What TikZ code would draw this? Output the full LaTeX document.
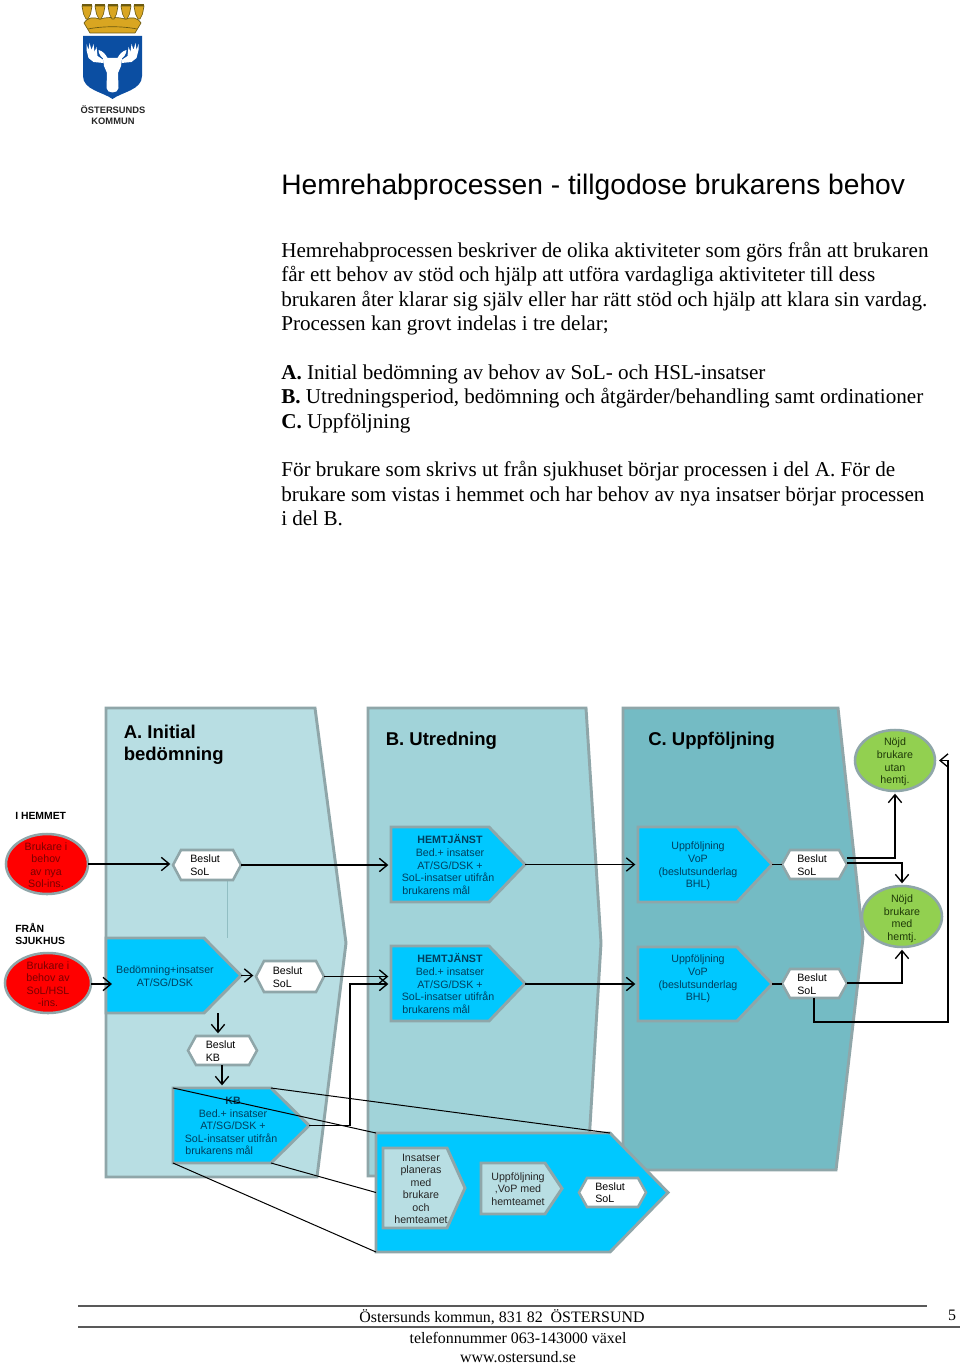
\documentclass[tikz,border=0pt]{standalone}
\usepackage{fontspec}
\setmainfont{Liberation Serif}
\setsansfont{Liberation Sans}
\usetikzlibrary{arrows.meta,shapes.geometric,calc}
\definecolor{edgegrey}{HTML}{8FA6A9}
\definecolor{panA}{HTML}{B8DEE3}
\definecolor{panB}{HTML}{A1D3D9}
\definecolor{panC}{HTML}{74BBC4}
\definecolor{cyanbox}{HTML}{00C8FF}
\definecolor{redell}{HTML}{FF0000}
\definecolor{greenell}{HTML}{92D050}
\definecolor{cyantext}{HTML}{003F5E}
\definecolor{redtext}{HTML}{7A0000}
\definecolor{greentext}{HTML}{1F3A08}
\definecolor{shieldblue}{HTML}{0B4EA2}
\definecolor{gold}{HTML}{D9A621}
\definecolor{golddark}{HTML}{6B5A10}
\tikzset{
  x=0.75pt,y=-0.75pt,
  shapeedge/.style={draw=edgegrey,line width=2.2pt,line join=miter},
  anchorbox/.style={rectangle,inner sep=0pt,outer sep=0pt},
  arr/.style={draw=black,line width=1pt,-{Straight Barb[length=6pt,width=10pt,line width=1pt]},shorten >=2pt},
  plainline/.style={draw=black,line width=1pt},
  callout/.style={draw=black,line width=0.75pt},
  small/.style={font=\sffamily\fontsize{8}{9.4}\selectfont,inner sep=0pt,align=center},
  smallleft/.style={small,align=left},
  oncyan/.style={small,text=cyantext},
  onred/.style={small,text=redtext},
  ongreen/.style={small,text=greentext},
  onpale/.style={small,text=black!85},
  heading/.style={font=\sffamily\bfseries\fontsize{13.9}{16.5}\selectfont,inner sep=0pt,align=left,anchor=north west},
  side/.style={font=\sffamily\bfseries\fontsize{7.8}{9.4}\selectfont,inner sep=0pt,align=left,text=black},
  bodyline/.style={font=\rmfamily\fontsize{15.85}{18}\selectfont,inner sep=0pt,anchor=base west},
  foot/.style={font=\rmfamily\fontsize{11.95}{14}\selectfont,inner sep=0pt,anchor=base},
}
% name, x1, y1, tip-start x, tip x, y2, fill
\newcommand{\pentbox}[7]{%
  \path[shapeedge,fill=#7] (#2,#3) -- (#4,#3) -- (#5,{(#3+#6)/2}) -- (#4,#6) -- (#2,#6) -- cycle;
  \coordinate (#1-ts) at (#4,#3);
  \coordinate (#1-bs) at (#4,#6);
  \node[anchorbox,minimum width={(#5-#2)*0.75pt},minimum height={(#6-#3)*0.75pt}] (#1) at ({(#2+#5)/2},{(#3+#6)/2}) {};
}
% name, x1, y1, x2, y2, inset
\newcommand{\hexbox}[6]{%
  \path[shapeedge,line width=1.9pt,fill=white] (#2,{(#3+#5)/2}) -- ({#2+#6},#3) -- ({#4-#6},#3) -- (#4,{(#3+#5)/2}) -- ({#4-#6},#5) -- ({#2+#6},#5) -- cycle;
  \node[anchorbox,minimum width={(#4-#2)*0.75pt},minimum height={(#5-#3)*0.75pt}] (#1) at ({(#2+#4)/2},{(#3+#5)/2}) {};
}
% name, x1, y1, x2, y2, fill
\newcommand{\ovalbox}[6]{%
  \node[ellipse,shapeedge,line width=1.9pt,fill=#6,inner sep=0pt,outer sep=0pt,minimum width={(#4-#2)*0.75pt},minimum height={(#5-#3)*0.75pt}] (#1) at ({(#2+#4)/2},{(#3+#5)/2}) {};
}
\newcommand{\nudge}{\hspace*{3pt}}
\begin{document}
\begin{tikzpicture}
\useasboundingbox (0,0) rectangle (960,1363);
\fill[white] (0,0) rectangle (960,1363);

% ---- logo
\begin{scope}
  \fill[shieldblue] (83,36) -- (142,36) -- (142,76) .. controls (142,90) and (122,92) .. (112.5,99) .. controls (103,92) and (83,90) .. (83,76) -- cycle;
  \path[fill=gold,draw=golddark,line width=0.5pt] (84,23) .. controls (88,17) and (93,17) .. (100,19) .. controls (106,17) and (119,17) .. (125,19) .. controls (132,17) and (137,17) .. (141,23) -- (135,33) -- (90,33) -- cycle;
  \foreach \kx in {87,100,113,126,139}{
    \path[fill=gold,draw=golddark,line width=0.5pt] (\kx-5,6) -- (\kx+5,6) -- (\kx+3.5,14) -- (\kx+1,19) -- (\kx-1,19) -- (\kx-3.5,14) -- cycle;
    \fill[golddark] (\kx-5,4.5) rectangle (\kx+5,6.5);
  }
  \draw[golddark,line width=0.5pt] (88,29) .. controls (103,26) and (122,26) .. (137,29);
  \foreach \s in {1,-1}{
    \begin{scope}[shift={(112.5,0)},xscale=\s]
      \fill[white] (-9,63) -- (-19,62) -- (-24,58) -- (-26,50) -- (-26,44) -- (-24,50) -- (-23,43) -- (-21,50) -- (-19,44) -- (-18,52) -- (-16,47) -- (-15,56) -- (-9,60) -- cycle;
      \fill[white] (-5,58) .. controls (-7,54) and (-10,51) .. (-14,50) .. controls (-14,54) and (-11,58) .. (-7,60) -- cycle;
    \end{scope}
  }
  \fill[white] (103,58) -- (122,58) -- (121,66) -- (118,73) -- (118.5,88) .. controls (118.5,94) and (106.5,94) .. (106.5,88) -- (107,73) -- (104,66) -- cycle;
  \node[font=\sffamily\bfseries\fontsize{7}{8.2}\selectfont,inner sep=0pt,align=center,text=black!85] (logotext) at (113,115.5) {ÖSTERSUNDS\\KOMMUN};
\end{scope}

% ---- page text
\node[font=\sffamily\fontsize{21.15}{24}\selectfont,inner sep=0pt,anchor=base west] (title) at (281,194) {Hemrehabprocessen - tillgodose brukarens behov};
\node[bodyline] (p1) at (281,257) {Hemrehabprocessen beskriver de olika aktiviteter som görs från att brukaren};
\node[bodyline] (p2) at (281,281.5) {får ett behov av stöd och hjälp att utföra vardagliga aktiviteter till dess};
\node[bodyline] (p3) at (281,306) {brukaren åter klarar sig själv eller har rätt stöd och hjälp att klara sin vardag.};
\node[bodyline] (p4) at (281,330) {Processen kan grovt indelas i tre delar;};
\node[bodyline] (p5) at (281,379) {\textbf{A.} Initial bedömning av behov av SoL- och HSL-insatser};
\node[bodyline] (p6) at (281,403) {\textbf{B.} Utredningsperiod, bedömning och åtgärder/behandling samt ordinationer};
\node[bodyline] (p7) at (281,428) {\textbf{C.} Uppföljning};
\node[bodyline] (p8) at (281,476) {För brukare som skrivs ut från sjukhuset börjar processen i del A. För de};
\node[bodyline] (p9) at (281,501) {brukare som vistas i hemmet och har behov av nya insatser börjar processen};
\node[bodyline] (p10) at (281,525) {i del B.};

% ---- panels
\path[shapeedge,fill=panA] (106,708) -- (315,708) -- (346,943) -- (317,1177) -- (106,1177) -- cycle;
\path[shapeedge,fill=panB] (368,708) -- (586,708) -- (601,943) -- (587,1176) -- (368,1176) -- cycle;
\path[shapeedge,fill=panC] (623,708) -- (838,708) -- (863,938) -- (836,1170) -- (623,1170) -- cycle;
\draw[panB!90!black,line width=0.4pt] (227,880) -- (227,938);

\node[heading] (headA) at (123.5,725) {A. Initial\\bedömning};
\node[heading] (headB) at (385.5,732) {B. Utredning};
\node[heading] (headC) at (648,732) {C. Uppföljning};
\node[side,anchor=west] (hemmet) at (15,816) {I HEMMET};
\node[side,anchor=west] (sjukhus) at (15,934) {FRÅN\\SJUKHUS};

% ---- shapes
\ovalbox{red1}{6}{834}{88}{894}{redell}
\ovalbox{red2}{5}{953}{91}{1013}{redell}
\ovalbox{nojdutan}{855}{730}{935}{791}{greenell}
\ovalbox{nojdmed}{862}{886}{942}{947}{greenell}
\hexbox{hexA1}{173}{850}{241}{880}{8}
\hexbox{hexA2}{256}{961}{324}{992}{8}
\hexbox{hexKB}{188}{1036}{257}{1065}{8}
\hexbox{hexC1}{782}{850}{847}{879}{8}
\hexbox{hexC2}{782}{969}{847}{998}{8}
\pentbox{bed}{106}{938}{204}{241}{1013}{cyanbox}
\pentbox{kb}{173}{1088}{271}{309}{1163}{cyanbox}
\pentbox{bone}{391}{827}{489}{525}{902}{cyanbox}
\pentbox{btwo}{391}{946}{489}{525}{1021}{cyanbox}
\pentbox{cone}{638}{827}{737}{772}{902}{cyanbox}
\pentbox{ctwo}{638}{947}{737}{772}{1021}{cyanbox}
\pentbox{big}{376}{1133}{610}{668}{1252}{cyanbox}
\pentbox{plan}{383}{1148}{447}{465}{1228}{panA}
\pentbox{uppf}{481}{1163}{545}{562}{1214}{panA}
\hexbox{hexBig}{579}{1178}{646}{1207}{8}

% ---- shape texts
\node[onred] (red1t) at (46,865) {Brukare i\\behov\\av nya\\Sol-ins.};
\node[onred] (red2t) at (48,984) {Brukare i\\behov av\\SoL/HSL\\-ins.};
\node[ongreen] (utant) at (895,762) {Nöjd\\brukare\\utan\\hemtj.};
\node[ongreen] (medt) at (902,918.5) {Nöjd\\brukare\\med\\hemtj.};
\node[smallleft,anchor=west] (hexA1t) at (190,865) {Beslut\\SoL};
\node[smallleft,anchor=west] (hexA2t) at (272.5,977) {Beslut\\SoL};
\node[smallleft,anchor=west] (hexKBt) at (205.5,1051) {Beslut\\KB};
\node[smallleft,anchor=west] (hexC1t) at (797,865) {Beslut\\SoL};
\node[smallleft,anchor=west] (hexC2t) at (797,984) {Beslut\\SoL};
\node[smallleft,anchor=west] (hexBigt) at (595,1192.5) {Beslut\\SoL};
\node[oncyan] (bedt) at (165,976) {Bedömning+insatser\\AT/SG/DSK};
\node[oncyan] (bonet) at (448,864.5) {\nudge\textbf{HEMTJÄNST}\\\nudge Bed.+ insatser\\\nudge AT/SG/DSK +\\SoL-insatser utifrån\\\hspace*{-2.2em}brukarens mål};
\node[oncyan] (btwot) at (448,983.5) {\nudge\textbf{HEMTJÄNST}\\\nudge Bed.+ insatser\\\nudge AT/SG/DSK +\\SoL-insatser utifrån\\\hspace*{-2.2em}brukarens mål};
\node[oncyan] (conet) at (698,866) {Uppföljning\\VoP\\(beslutsunderlag\\BHL)};
\node[oncyan] (ctwot) at (698,979) {Uppföljning\\VoP\\(beslutsunderlag\\BHL)};
\node[onpale] (plant) at (421,1189) {Insatser\\planeras\\med\\brukare\\och\\hemteamet};
\node[onpale] (uppft) at (518,1189) {Uppföljning\\,VoP med\\hemteamet};
\node[oncyan] (kbt) at (231,1126) {\nudge\textbf{KB}\\\nudge Bed.+ insatser\\\nudge AT/SG/DSK +\\SoL-insatser utifrån\\\hspace*{-2.2em}brukarens mål};

% ---- connectors
\draw[arr] (red1.east) -- (red1.east -| hexA1.west);
\draw[arr] (hexA1.east) -- (hexA1.east -| bone.west);
\draw[arr] (bone.east) -- (bone.east -| cone.west);
\draw[plainline] (cone.east) -- (cone.east -| hexC1.west);
\coordinate (redtwoy) at (91,984);
\draw[arr,shorten >=-4.5pt] (redtwoy) -- (redtwoy -| bed.west);
\draw[arr] (bed.east) -- (bed.east -| hexA2.west);
\draw[arr] (hexA2.east) -- (hexA2.east -| btwo.west);
\coordinate (bedout) at (218,1013);
\draw[arr] (bedout) -- (bedout |- hexKB.north);
\coordinate (kbdown) at (222,1065);
\draw[arr] (kbdown) -- (kbdown |- kb.north);
\coordinate (kbturn) at (350,984);
\draw[arr] (kb.east) -| (kbturn) -- (kbturn -| btwo.west);
\coordinate (btwoout) at (525,984);
\draw[arr] (btwoout) -- (btwoout -| ctwo.west);
\draw[plainline] (ctwo.east) -- (ctwo.east -| hexC2.west);
\coordinate (coneA) at (847,858);
\coordinate (coneB) at (847,863);
\coordinate (ctwoA) at (847,983);
\draw[arr] (coneA) -| (nojdutan.south);
\draw[arr] (coneB) -| (nojdmed.north);
\draw[arr] (ctwoA) -| (nojdmed.south);
\coordinate (ctwoB) at (814,998);
\coordinate (loopa) at (814,1022);
\coordinate (loopb) at (948,1022);
\draw[arr,shorten >=3pt] (ctwoB) -- (loopa) -- (loopb) |- (nojdutan.east);
% ---- zoom lines from the KB box to the detail box
\draw[callout] (kb.north west) -- (big.north west);
\draw[callout] (kb-ts) -- (big-ts);
\draw[callout] (kb-bs) -- (big.west);
\draw[callout] (kb.south west) -- (big.south west);

% ---- footer
\draw[black!65,line width=1pt] (78,1306) coordinate (fa) -- (927,1306) coordinate (fb);
\draw[black!65,line width=1pt] (78,1327) coordinate (fc) -- (960,1327) coordinate (fd);
\node[foot] (f1) at (502,1322.5) {Östersunds kommun, 831 82\ \ ÖSTERSUND};
\node[foot] (f2) at (518,1343.5) {telefonnummer 063-143000 växel};
\node[foot] (f3) at (518,1362) {www.ostersund.se};
\node[foot] (f4) at (952,1320) {5};
\end{tikzpicture}
\end{document}
